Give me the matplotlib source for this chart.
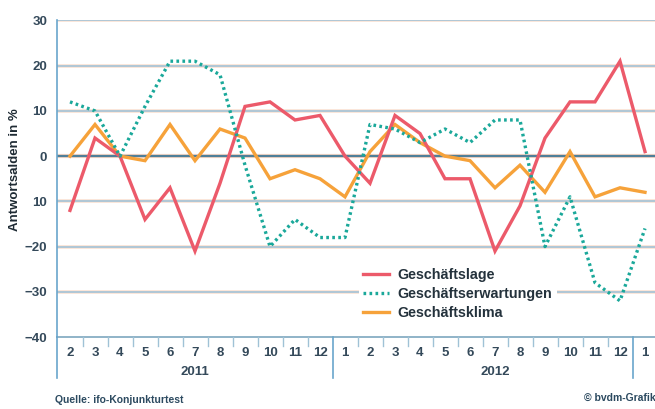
import matplotlib
matplotlib.use("Agg")
import matplotlib.pyplot as plt
from matplotlib.transforms import blended_transform_factory
from matplotlib.lines import Line2D

plt.rcParams['font.family'] = ['Liberation Sans', 'DejaVu Sans']

months = ["2", "3", "4", "5", "6", "7", "8", "9", "10", "11", "12",
          "1", "2", "3", "4", "5", "6", "7", "8", "9", "10", "11", "12", "1"]
years = ["2011", "2012"]

geschaeftslage = [-12, 4, 0, -14, -7, -21, -6, 11, 12, 8, 9,
                  0, -6, 9, 5, -5, -5, -21, -11, 4, 12, 12, 21, 1]
geschaeftserwartungen = [12, 10, 0, 11, 21, 21, 18, -2, -20, -14, -18,
                         -18, 7, 6, 3, 6, 3, 8, 8, -20, -9, -28, -32, -16]
geschaeftsklima = [0, 7, 0, -1, 7, -1, 6, 4, -5, -3, -5,
                   -9, 1, 7, 3, 0, -1, -7, -2, -8, 1, -9, -7, -8]

ytick_vals = [30, 20, 10, 0, -10, -20, -30, -40]
ytick_labels = ["30", "20", "10", "0", "10", "\u221220", "\u221230", "\u221240"]

series_names = ["Geschäftslage", "Geschäftserwartungen", "Geschäftsklima"]

RED = "#ec5a6a"
GREEN = "#1aa89a"
ORANGE = "#f6a23a"
GRID = "#a3c3d6"
AXIS = "#6aa6cc"
TXT = "#34495a"

fig = plt.figure(figsize=(6.55, 4.09), dpi=100)
fig.patch.set_facecolor("white")
W, H = 655, 409
ax = fig.add_axes([57 / W, 1 - 337 / H, 1 - 57 / W, (337 - 20.5) / H])

n = len(months)
x = list(range(n))
ax.set_xlim(-0.52, (655 - 70) / 25.0)
ax.set_ylim(-40, 30)

for s in ["top", "right", "bottom", "left"]:
    ax.spines[s].set_visible(False)

# gridlines
for v in ytick_vals:
    if v == 0:
        ax.axhline(v, color="#f7d6c4", lw=3.0, zorder=0.5)
        ax.axhline(v, color="#4f7f99", lw=1.6, zorder=1)
    elif v == -40:
        ax.axhline(v, color="#8fb3c8", lw=1.4, zorder=1, clip_on=False)
    else:
        ax.axhline(v, color="#f9e0d2", lw=2.6, zorder=0.5)
        ax.axhline(v, color=GRID, lw=1.2, zorder=1)

ax.plot(x, geschaeftsklima, color=ORANGE, lw=2.4, zorder=3, solid_joinstyle="miter")
ax.plot(x, geschaeftslage, color=RED, lw=2.4, zorder=4, solid_joinstyle="miter")
ax.plot(x, geschaeftserwartungen, color=GREEN, lw=2.4, ls=(0, (0.8, 1.0)), zorder=5)

ax.set_yticks(ytick_vals)
ax.set_yticklabels(ytick_labels)
ax.tick_params(axis="y", length=0, pad=7, labelsize=9.5, labelcolor=TXT)
for t in ax.get_yticklabels():
    t.set_fontweight("bold")
ax.set_xticks([])

# left axis line extending below
ax.plot([-0.52, -0.52], [30, -40], color=AXIS, lw=1.2, clip_on=False, zorder=2)
trans_px = blended_transform_factory(ax.transData, fig.transFigure)
ax.plot([-0.52, -0.52], [1 - 337 / H, 1 - 378 / H], color=AXIS, lw=1.2,
        transform=trans_px, clip_on=False)

# month separators and labels
for i in range(n):
    ax.text(i, 1 - 353 / H, months[i], transform=trans_px, ha="center", va="center",
            fontsize=9.5, fontweight="bold", color=TXT)
for i in range(n - 1):
    sep = i + 0.5
    if months[i + 1] == "1":
        ax.plot([sep, sep], [1 - 337 / H, 1 - 378 / H], color=AXIS, lw=1.2,
                transform=trans_px, clip_on=False)
    else:
        ax.plot([sep, sep], [1 - 337 / H, 1 - 346 / H], color="#9fc2d6", lw=1.0,
                transform=trans_px, clip_on=False)

# year labels
ax.text(5, 1 - 372 / H, years[0], transform=trans_px, ha="center", va="center",
        fontsize=9.5, fontweight="bold", color=TXT)
ax.text(17, 1 - 372 / H, years[1], transform=trans_px, ha="center", va="center",
        fontsize=9.5, fontweight="bold", color=TXT)

# y label
fig.text(15 / W, 1 - 170 / H, "Antwortsalden in %", rotation=90, ha="center", va="center",
         fontsize=9.5, fontweight="bold", color="#1e2a33")

handles = [Line2D([], [], color=RED, lw=2.4),
           Line2D([], [], color=GREEN, lw=2.4, ls=(0, (0.8, 1.0))),
           Line2D([], [], color=ORANGE, lw=2.4)]
leg = ax.legend(handles, series_names, loc="upper left", frameon=True,
                handlelength=1.8, handletextpad=0.6, labelspacing=0.35, borderpad=0.3,
                prop={"weight": "bold", "size": 10.3})
leg.set_bbox_to_anchor((352 / W, 1 - 257 / H), transform=fig.transFigure)
leg.get_frame().set_facecolor("white")
leg.get_frame().set_edgecolor("none")
leg.get_frame().set_alpha(1)
leg.set_zorder(10)
for t in leg.get_texts():
    t.set_color("#24323c")

fig.text(55 / W, 1 - 400 / H, "Quelle: ifo-Konjunkturtest", fontsize=7.5,
         fontweight="bold", color="#2c4a60", va="center", ha="left")
fig.text(584 / W, 1 - 398 / H, "© bvdm-Grafik", fontsize=7.5, fontweight="bold",
         color="#2c4a60", va="center", ha="left")

fig.savefig("out.png", dpi=100, facecolor="white")
